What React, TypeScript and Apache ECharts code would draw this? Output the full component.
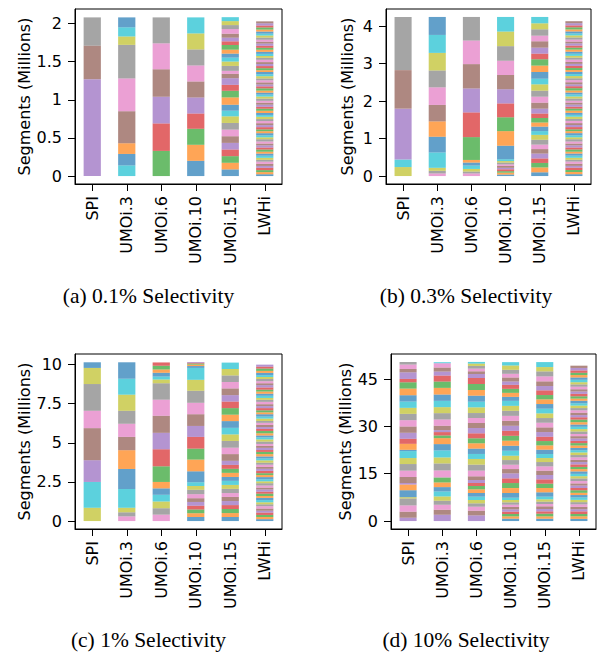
import React, { useEffect, useRef } from "react";
import * as echarts from "echarts";

const categories = ["SPI", "UMOi.3", "UMOi.6", "UMOi.10", "UMOi.15", "LWHi"];
const TAB10 = ["#1f77b4", "#ff7f0e", "#2ca02c", "#d62728", "#9467bd", "#8c564b", "#e377c2", "#7f7f7f", "#bcbd22", "#17becf"];

// ---- (a) 0.1% selectivity (millions of segments, bottom to top) ----
const aStarts = [0, 9, 2, 0, 0, 0];
const aSPI = [0, 0, 0, 0, 1.27, 0.44, 0, 0.37];
const aUMOi3 = [0.14, 0.15, 0.14, 0, 0, 0, 0.42, 0.43, 0.44, 0.11, 0.12, 0.13];
const aUMOi6 = [0.33, 0.36, 0.35, 0.36, 0.34, 0.34];
const aUMOi10 = [0.2, 0.21, 0.21, 0.2, 0.21, 0.21, 0.21, 0.21, 0.21, 0.21];
const aUMOi15 = [0.087, 0.087, 0.087, 0.087, 0.087, 0.087, 0.087, 0.087, 0.087, 0.074, 0.078, 0.096, 0.087, 0.078, 0.087, 0.057, 0.039, 0.065, 0.057, 0.052, 0.052, 0.052, 0.061, 0.048, 0.048, 0.052, 0.061, 0.052, 0.052, 0.052];
const aLWHi = [0.024, 0.028, 0.026, 0.03, 0.025, 0.027, 0.029, 0.024, 0.026, 0.028, 0.027, 0.025, 0.029, 0.026, 0.028, 0.024, 0.027, 0.03, 0.025, 0.026, 0.028, 0.026, 0.024, 0.029, 0.027, 0.025, 0.028, 0.026, 0.03, 0.024, 0.026, 0.029, 0.027, 0.025, 0.028, 0.026, 0.024, 0.029, 0.027, 0.026, 0.025, 0.027, 0.03, 0.026, 0.024, 0.028, 0.027, 0.025, 0.029, 0.026, 0.029, 0.024, 0.026, 0.028, 0.027, 0.025, 0.03, 0.026, 0.024, 0.028, 0.026, 0.028, 0.025, 0.027, 0.029, 0.024, 0.026, 0.028, 0.027, 0.025, 0.027, 0.026, 0.028, 0.025, 0.029, 0.026];

// ---- (b) 0.3% selectivity ----
const bStarts = [8, 6, 6, 0, 0, 0];
const bSPI = [0.24, 0.2, 0, 0, 0, 0, 1.36, 1.03, 0, 1.42];
const bUMOi3 = [0.07, 0.07, 0.08, 0.41, 0.42, 0.41, 0, 0, 0, 0.44, 0.47, 0.45, 0.47, 0.48, 0.48];
const bUMOi6 = [0.07, 0.05, 0.07, 0.09, 0.08, 0.07, 0.61, 0.66, 0.64, 0.65, 0.63, 0.63];
const bUMOi10 = [0.04, 0.05, 0.04, 0.05, 0.04, 0.05, 0.04, 0.05, 0.04, 0.05, 0.36, 0.39, 0.37, 0.37, 0.38, 0.38, 0.38, 0.39, 0.39, 0.39];
const bUMOi15 = [0.1, 0.13, 0.12, 0.12, 0.13, 0.12, 0.12, 0.13, 0.13, 0.1, 0.12, 0.11, 0.12, 0.12, 0.13, 0.16, 0.16, 0.16, 0.17, 0.15, 0.18, 0.17, 0.17, 0.15, 0.16, 0.17, 0.15, 0.17, 0.16, 0.17];
const bLWHi = [0.05, 0.058, 0.054, 0.061, 0.049, 0.056, 0.059, 0.048, 0.053, 0.057, 0.055, 0.05, 0.06, 0.052, 0.057, 0.048, 0.055, 0.062, 0.051, 0.054, 0.057, 0.053, 0.049, 0.06, 0.055, 0.051, 0.058, 0.053, 0.061, 0.049, 0.053, 0.059, 0.055, 0.05, 0.057, 0.053, 0.048, 0.06, 0.055, 0.054, 0.051, 0.055, 0.062, 0.053, 0.049, 0.057, 0.055, 0.051, 0.059, 0.053, 0.059, 0.049, 0.053, 0.057, 0.055, 0.051, 0.061, 0.053, 0.049, 0.057, 0.053, 0.057, 0.051, 0.055, 0.059, 0.049, 0.053, 0.057, 0.055, 0.051, 0.055, 0.053, 0.057, 0.051, 0.059, 0.054];

// ---- (c) 1% selectivity ----
const cStarts = [8, 6, 6, 0, 0, 0];
const cSPI = [0.85, 1.65, 0, 0, 0, 0, 1.39, 2.05, 1.11, 1.71, 1.03, 0, 0.36];
const cUMOi3 = [0.3, 0.26, 0.29, 1.2, 1.28, 1.2, 0, 0, 0, 0.85, 0.84, 0.83, 1.03, 1.02, 1.05];
const cUMOi6 = [0.41, 0.41, 0.43, 0.43, 0.41, 0.41, 1.0, 1.09, 1.05, 1.09, 1.03, 1.05, 0.24, 0.19, 0.24, 0.21, 0.24, 0.21];
const cUMOi10 = [0.26, 0.24, 0.24, 0.24, 0.24, 0.24, 0.26, 0.28, 0.24, 0.24, 0.7, 0.75, 0.7, 0.75, 0.7, 0.75, 0.73, 0.77, 0.7, 0.76, 0.12, 0.09, 0.07, 0.05, 0.05];
const cUMOi15 = [0.26, 0.25, 0.26, 0.25, 0.26, 0.26, 0.25, 0.27, 0.25, 0.26, 0.25, 0.26, 0.26, 0.25, 0.26, 0.43, 0.41, 0.43, 0.42, 0.42, 0.43, 0.41, 0.42, 0.42, 0.41, 0.43, 0.41, 0.42, 0.41, 0.41];
const cLWHi = [0.12, 0.14, 0.13, 0.15, 0.12, 0.14, 0.15, 0.12, 0.13, 0.14, 0.14, 0.12, 0.15, 0.13, 0.14, 0.12, 0.13, 0.15, 0.12, 0.13, 0.14, 0.13, 0.12, 0.15, 0.13, 0.12, 0.14, 0.13, 0.15, 0.12, 0.13, 0.15, 0.14, 0.12, 0.14, 0.13, 0.12, 0.15, 0.14, 0.13, 0.12, 0.14, 0.15, 0.13, 0.12, 0.14, 0.13, 0.12, 0.15, 0.13, 0.15, 0.12, 0.13, 0.14, 0.13, 0.12, 0.15, 0.13, 0.12, 0.14, 0.13, 0.14, 0.12, 0.14, 0.15, 0.12, 0.13, 0.14, 0.13, 0.12, 0.14, 0.13, 0.15, 0.12, 0.13];

// ---- (d) 10% selectivity ----
const dStarts = [4, 4, 4, 0, 0, 0];
const dSPI = [1.06, 1.9, 2.0, 2.2, 0.4, 0, 2.2, 1.8, 0, 0, 0.5, 1.9, 2.0, 2.1, 1.9, 2.2, 0.4, 1.9, 0, 1.6, 1.9, 2.0, 2.0, 2.0, 1.9, 2.0, 2.0, 2.1, 2.0, 1.06, 2.1, 1.06, 1.4, 0.8];
const dUMOi3 = [2.0, 1.58, 1.58, 1.27, 1.37, 1.58, 1.37, 1.48, 1.58, 0, 0, 0, 2.22, 2.22, 1.9, 2.22, 2.0, 1.9, 0.85, 1.06, 0.63, 1.37, 2.0, 2.0, 1.9, 2.0, 2.0, 2.11, 2.0, 1.9, 1.27, 1.27, 1.37, 0, 0, 0.32];
const dUMOi6 = [1.8, 1.48, 1.27, 1.06, 1.06, 1.06, 1.16, 1.16, 1.06, 0.95, 0.95, 1.16, 1.8, 1.9, 1.8, 1.58, 1.69, 1.69, 1.58, 1.58, 1.69, 1.58, 1.58, 1.58, 1.8, 1.8, 1.9, 1.8, 1.9, 1.9, 1.27, 0.85, 0.85, 0.85, 0.74, 0.53];
const dUMOi10 = [0.76, 0.72, 0.75, 0.73, 0.74, 0.76, 0.72, 0.74, 0.75, 0.73, 1.48, 1.58, 1.58, 1.48, 1.58, 1.37, 1.37, 1.48, 1.37, 1.58, 1.58, 1.6, 1.55, 1.58, 1.6, 1.56, 1.58, 1.6, 1.57, 1.58, 1.27, 1.27, 1.27, 1.27, 1.06, 1.27, 1.16, 1.27, 1.37, 1.06];
const dUMOi15 = [0.74, 0.74, 0.85, 0.74, 0.74, 0.85, 0.74, 0.74, 0.74, 0.85, 1.37, 1.37, 1.37, 1.37, 1.37, 1.37, 1.37, 1.37, 1.27, 1.27, 1.37, 1.37, 1.37, 1.37, 1.48, 1.48, 1.48, 1.48, 1.48, 1.48, 1.48, 1.48, 1.37, 1.48, 1.37, 1.48, 1.58, 1.58, 1.37, 1.58];
const dLWHi = [0.7, 0.8, 0.74, 0.82, 0.68, 0.76, 0.79, 0.69, 0.73, 0.78, 0.75, 0.7, 0.81, 0.72, 0.77, 0.68, 0.75, 0.83, 0.71, 0.74, 0.77, 0.73, 0.69, 0.8, 0.75, 0.71, 0.78, 0.73, 0.82, 0.69, 0.73, 0.79, 0.75, 0.7, 0.77, 0.73, 0.68, 0.8, 0.75, 0.74, 0.71, 0.75, 0.82, 0.73, 0.69, 0.77, 0.75, 0.71, 0.79, 0.73, 0.79, 0.69, 0.73, 0.77, 0.75, 0.71, 0.81, 0.73, 0.69, 0.77, 0.73, 0.77, 0.71, 0.75, 0.79, 0.72];

// ---- axis ticks & captions ----
const aTicks = [0, 0.5, 1, 1.5, 2];
const bTicks = [0, 1, 2, 3, 4];
const cTicks = [0, 2.5, 5, 7.5, 10];
const dTicks = [0, 15, 30, 45];
const captions = ["(a) 0.1% Selectivity", "(b) 0.3% Selectivity", "(c) 1% Selectivity", "(d) 10% Selectivity"];

const panels = [
  { starts: aStarts, bars: [aSPI, aUMOi3, aUMOi6, aUMOi10, aUMOi15, aLWHi], ticks: aTicks, min: -0.104, max: 2.19, grid: { left: 75, top: 9, width: 207, height: 175 }, nameGap: 43, cap: [148.5, 296] },
  { starts: bStarts, bars: [bSPI, bUMOi3, bUMOi6, bUMOi10, bUMOi15, bLWHi], ticks: bTicks, min: -0.2125, max: 4.4625, grid: { left: 386, top: 9, width: 205, height: 175 }, nameGap: 31, cap: [466, 296] },
  { starts: cStarts, bars: [cSPI, cUMOi3, cUMOi6, cUMOi10, cUMOi15, cLWHi], ticks: cTicks, min: -0.508, max: 10.68, grid: { left: 75, top: 354, width: 207, height: 175 }, nameGap: 43, cap: [148.5, 640] },
  { starts: dStarts, bars: [dSPI, dUMOi3, dUMOi6, dUMOi10, dUMOi15, dLWHi], ticks: dTicks, min: -2.52, max: 52.92, grid: { left: 391, top: 354, width: 205, height: 175 }, nameGap: 38, cap: [466, 640] },
];

const FONT = "DejaVu Sans";
const FS = 16;

function buildOption() {
  const grid: any[] = [];
  const xAxis: any[] = [];
  const yAxis: any[] = [];
  const series: any[] = [];
  const graphic: any[] = [];
  panels.forEach((p, k) => {
    grid.push({ ...p.grid, show: true, borderColor: "#000", borderWidth: 1, backgroundColor: "transparent" });
    xAxis.push({
      type: "category",
      gridIndex: k,
      data: categories,
      axisLine: { show: true, onZero: false, lineStyle: { color: "#000", width: 1 } },
      axisTick: { show: true, alignWithLabel: true, length: 7, lineStyle: { color: "#000" } },
      axisLabel: { rotate: 90, margin: 12, fontSize: FS, fontFamily: FONT, color: "#000", interval: 0 },
      splitLine: { show: false },
    });
    yAxis.push({
      type: "value",
      gridIndex: k,
      min: p.min,
      max: p.max,
      name: "Segments (Millions)",
      nameLocation: "middle",
      nameGap: p.nameGap,
      nameTextStyle: { fontSize: FS, fontFamily: FONT, color: "#000" },
      axisLine: { show: true, lineStyle: { color: "#000", width: 1 } },
      axisTick: { show: true, length: 7, customValues: p.ticks, lineStyle: { color: "#000" } },
      axisLabel: { customValues: p.ticks, margin: 13, fontSize: FS, fontFamily: FONT, color: "#000" },
      splitLine: { show: false },
    });
    const maxLen = Math.max(...p.bars.map((b) => b.length));
    for (let j = 0; j < maxLen; j++) {
      series.push({
        type: "bar",
        xAxisIndex: k,
        yAxisIndex: k,
        stack: "panel" + k,
        barWidth: "50%",
        silent: true,
        data: p.bars.map((b, i) =>
          j < b.length
            ? { value: b[j], itemStyle: { color: TAB10[(p.starts[i] + j) % 10], opacity: 0.7 } }
            : "-"
        ),
      });
    }
    graphic.push({
      type: "text",
      x: p.cap[0],
      y: p.cap[1],
      style: {
        text: captions[k],
        fontFamily: "Liberation Serif",
        fontSize: 21.5,
        fill: "#000",
        textAlign: "center",
        textVerticalAlign: "middle",
      },
    });
  });
  return { animation: false, backgroundColor: "#fff", grid, xAxis, yAxis, series, graphic };
}

export default function App() {
  const ref = useRef<HTMLDivElement>(null);
  useEffect(() => {
    if (!ref.current) return;
    const chart = echarts.init(ref.current, null, { renderer: "svg" });
    chart.setOption(buildOption() as any);
    return () => chart.dispose();
  }, []);
  return (
    <div
      ref={ref}
      style={{ position: "fixed", left: 0, top: 0, width: 597, height: 654, background: "#fff" }}
    />
  );
}
